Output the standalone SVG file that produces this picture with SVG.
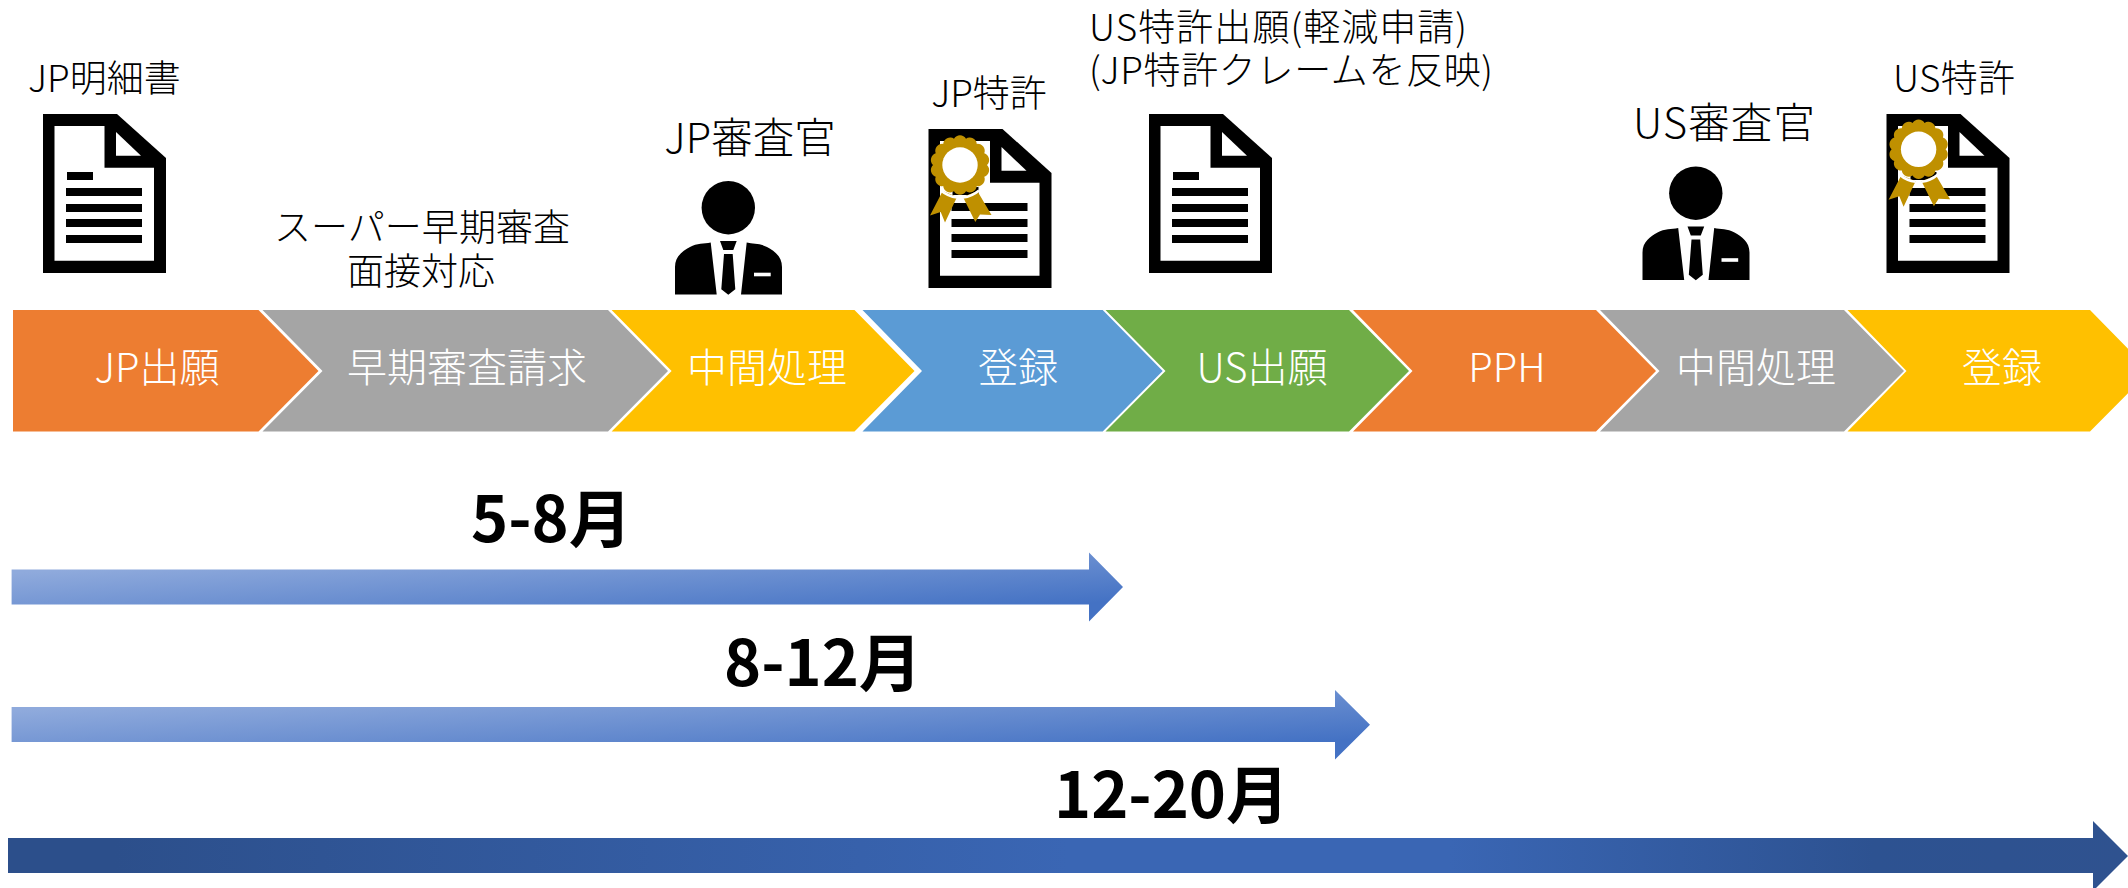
<svg xmlns="http://www.w3.org/2000/svg" width="2128" height="888" viewBox="0 0 2128 888">
<style>
text{font-family:"Noto Sans CJK JP","Noto Sans CJK SC",sans-serif;font-weight:300}
.s{font-size:37px;fill:#000}
.m{font-size:41.5px;fill:#000}
.c{font-size:40px;fill:#fff;text-anchor:middle}
.d{font-size:63px;font-weight:700;fill:#000}
.or{fill:#ED7D31}.gr{fill:#A5A5A5}.ye{fill:#FFC000}.bl{fill:#5B9BD5}.gn{fill:#70AD47}
.mi{fill:#BF9000}
</style>
<defs>
<linearGradient id="g1" x1="0" y1="0" x2="1" y2="1"><stop offset="0.15" stop-color="#8FAADC"/><stop offset="0.85" stop-color="#4472C4"/></linearGradient>
<linearGradient id="g2" x1="0" y1="0" x2="1" y2="0"><stop offset="0.05" stop-color="#2C4F8B"/><stop offset="0.5" stop-color="#3A66B4"/><stop offset="0.68" stop-color="#3A66B4"/><stop offset="0.88" stop-color="#2D5291"/><stop offset="1" stop-color="#2F528F"/></linearGradient>
<g id="doc">
<path fill="#000" d="M43 114H117L166 158V273H43Z"/>
<path fill="#fff" d="M54.5 126H104.5V167.7H154V260.7H54.5Z"/>
<path fill="#fff" d="M116 132V155.7H141Z"/>
<path fill="#000" d="M67 172H93V180H67ZM66 188H142V196H66ZM66 204H142V212H66ZM66 219H142V227H66ZM66 235H142V243H66Z"/>
</g>
<g id="medal">
<path class="mi" d="M942.7 191L957 197L945 222.5L940.7 212L930 215.5ZM963 197L977.3 191L991.5 215L980 214.5L975.3 222Z"/>
<path fill="none" stroke="#fff" stroke-width="2.5" d="M941 190.5Q948 196.5 957 197.5M963 197.5Q972 196.5 979 190.5"/>
<path class="mi" transform="translate(960 165)" d="M27 0A7 7 0 0 1 24.3 11.7A7 7 0 0 1 16.8 21.1A7 7 0 0 1 6 26.3A7 7 0 0 1 -6 26.3A7 7 0 0 1 -16.8 21.1A7 7 0 0 1 -24.3 11.7A7 7 0 0 1 -27 0A7 7 0 0 1 -24.3 -11.7A7 7 0 0 1 -16.8 -21.1A7 7 0 0 1 -6 -26.3A7 7 0 0 1 6 -26.3A7 7 0 0 1 16.8 -21.1A7 7 0 0 1 24.3 -11.7A7 7 0 0 1 27 0Z"/>
<circle cx="960" cy="165" r="17.7" fill="#fff"/>
</g>
<g id="person">
<circle cx="728.3" cy="207.7" r="26.7" fill="#000"/>
<path fill="#000" d="M675 294.5V267C675 256 683 251 690 247C697 243 704 244 710.7 242.5L716.7 294.5ZM746.7 242.5C753 244 760 243 767 247C774 251 782 256 782 267V294.5H741Z"/>
<path fill="#000" d="M720 241H736.7L733.3 250H723.3ZM724 254H732.7L735.3 289.3L728.3 294.7L721.3 289.3Z"/>
<rect x="754" y="272.7" width="16.7" height="3.6" fill="#fff"/>
</g>
</defs>
<rect width="2128" height="888" fill="#fff"/>

<g id="step-jp-filing"><path class="or" d="M13 310H258.5L318.5 371L258.5 431.5H13Z"/><text class="c" x="157" y="382">JP出願</text></g>
<g id="step-early-exam"><path class="gr" d="M262.5 310H608L668 371L608 431.5H262.5L322.5 371Z"/><text class="c" x="467" y="382">早期審査請求</text></g>
<g id="step-jp-oa"><path class="ye" d="M611.6 310H854.5L914.5 371L854.5 431.5H611.6L671.6 371Z"/><text class="c" x="767" y="382">中間処理</text></g>
<g id="step-jp-reg"><path class="bl" d="M862.5 310H1102.7L1162.7 371L1102.7 431.5H862.5L922 371Z"/><text class="c" x="1018" y="382">登録</text></g>
<g id="step-us-filing"><path class="gn" d="M1105.5 310H1349L1409 371L1349 431.5H1105.5L1165.5 371Z"/><text class="c" x="1262" y="382">US出願</text></g>
<g id="step-pph"><path class="or" d="M1353 310H1596L1656 371L1596 431.5H1353L1412.5 371Z"/><text class="c" x="1507" y="382">PPH</text></g>
<g id="step-us-oa"><path class="gr" d="M1600 310H1844L1904 371L1844 431.5H1600L1659.5 371Z"/><text class="c" x="1756" y="382">中間処理</text></g>
<g id="step-us-reg"><path class="ye" d="M1847.5 310H2090L2150 371L2090 431.5H1847.5L1906.5 371Z"/><text class="c" x="2002" y="382">登録</text></g>

<g id="jp-spec"><text class="s" x="28" y="92">JP明細書</text><use href="#doc"/></g>
<g id="super-early-note"><text class="s" x="422" y="241" text-anchor="middle" textLength="296">スーパー早期審査</text><text class="s" x="421" y="285" text-anchor="middle">面接対応</text></g>
<g id="jp-examiner"><text class="m" x="750" y="153" text-anchor="middle">JP審査官</text><use href="#person"/></g>
<g id="jp-patent"><text class="s" x="989" y="107" text-anchor="middle">JP特許</text><use href="#doc" transform="translate(885.5 15)"/><use href="#medal"/></g>
<g id="us-application"><text class="s" x="1089" y="41" textLength="378">US特許出願(軽減申請)</text><text class="s" x="1089" y="84" textLength="404">(JP特許クレームを反映)</text><use href="#doc" transform="translate(1106 0)"/></g>
<g id="us-examiner"><text class="m" x="1724" y="138" text-anchor="middle" textLength="182">US審査官</text><use href="#person" transform="translate(967.5 -14.5)"/></g>
<g id="us-patent"><text class="s" x="1954" y="92" text-anchor="middle" textLength="122">US特許</text><use href="#doc" transform="translate(1843.5 0)"/><use href="#medal" transform="translate(958.6 -15.7)"/></g>

<g id="connectors">
<path fill="url(#g1)" d="M11.6 569.5H1089V552.5L1123 587L1089 621.5V604.5H11.6Z"/>
<path fill="url(#g1)" d="M11.6 707H1335V690L1370 724.8L1335 759.5V742H11.6Z"/>
<path fill="url(#g2)" d="M8 838H2093V821L2128 856L2093 891V873H8Z"/>
</g>
<g id="durations">
<text class="d" x="471" y="542">5-8月</text>
<text class="d" x="724" y="686">8-12月</text>
<text class="d" x="1054" y="818">12-20月</text>
</g>
</svg>
